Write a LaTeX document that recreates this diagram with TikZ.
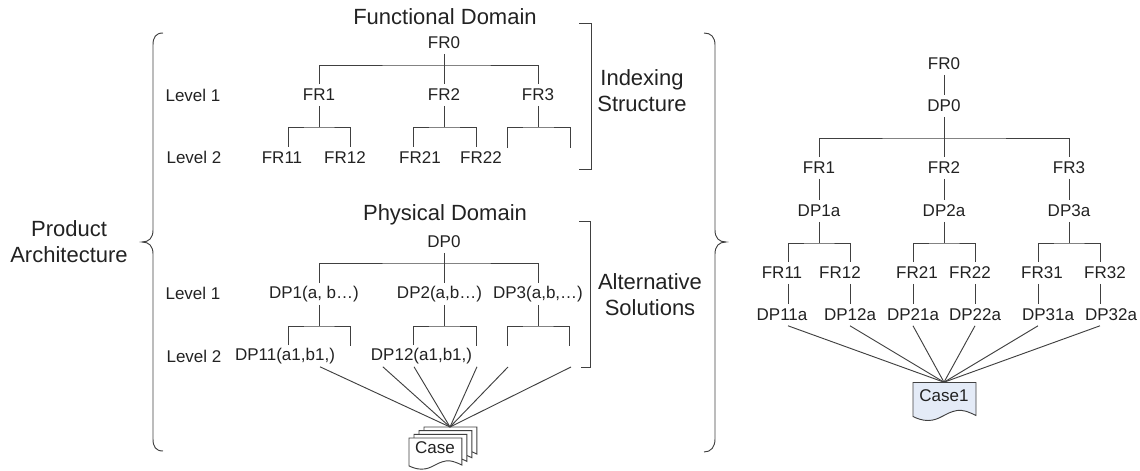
\documentclass[tikz,border=0pt]{standalone}
\usepackage{fontspec}
\usepackage{xcolor}
\setmainfont{Liberation Sans}
\definecolor{ln}{HTML}{404040}
\definecolor{tx}{HTML}{222222}
\definecolor{bl}{HTML}{E4EBF7}

% x, y, xscale, yscale, fill
\newcommand{\casedoc}[5]{
    \draw[fill = #5, shift = {(#1, #2)}, xscale = #3, yscale = #4]
        (0, 0) -- (63, 0) -- (63, 33)
        .. controls (55, 29) and (49, 27) .. (44, 28)
        .. controls (32, 30) and (27, 38) .. (15, 38)
        .. controls (9, 38) and (4, 36) .. (0, 34) -- cycle;
}

\begin{document}
\begin{tikzpicture}[
            x = 0.75pt,
            y = -0.75pt,
            color = ln,
            line width = 0.7pt % line style
        ]

        \tikzstyle{item}=[
            text = tx,
            font = \fontsize{12.75}{15}\selectfont,
            inner sep = 0pt,
            minimum height = 15.5pt
        ]
        \tikzstyle{heading}=[
            text = tx,
            font = \fontsize{16.5}{20}\selectfont,
            inner sep = 0pt
        ]
        \tikzstyle{side}=[
            text = tx,
            font = \fontsize{16.5}{19.5}\selectfont,
            align = center,
            inner sep = 0pt
        ]

        \useasboundingbox (0, 0) rectangle (1140, 471);

        \node[side] (product) [at={(69, 242)}] {Product\\Architecture};
        \node[side] (indexing) [at={(642, 91)}] {Indexing\\Structure};
        \node[side] (alternative) [at={(650, 295)}] {Alternative\\Solutions};
        \node[heading] (functional) [at={(445, 17)}] {Functional Domain};
        \node[heading] (physical) [at={(445, 215)}] {Physical Domain};

        % braces and brackets
        \draw (163, 33) .. controls (156, 33) and (153, 37) .. (153, 45) -- (153, 230)
            .. controls (153, 238) and (149, 242) .. (142, 242)
            .. controls (149, 242) and (153, 246) .. (153, 254) -- (153, 439)
            .. controls (153, 447) and (156, 451) .. (163, 451);
        \draw (704, 33) .. controls (711, 33) and (715, 37) .. (715, 45) -- (715, 230)
            .. controls (715, 238) and (719, 242) .. (726, 242)
            .. controls (719, 242) and (715, 246) .. (715, 254) -- (715, 439)
            .. controls (715, 447) and (711, 452) .. (704, 452);
        \draw (579, 23) -| (591, 169) -- (579, 169);
        \draw (579, 221) -| (590, 367) -- (581, 367);

        \node[item] (lev1a) [at={(193, 95)}] {Level 1};
        \node[item] (lev2a) [at={(194, 157)}] {Level 2};
        \node[item] (lev1b) [at={(193, 293)}] {Level 1};
        \node[item] (lev2b) [at={(194, 356)}] {Level 2};

        % functional domain
        \node[item] (FR0) [at={(444, 43)}] {FR0};
        \node[item] (FR1) [at={(319, 95)}] {FR1};
        \node[item] (FR2) [at={(444, 95)}] {FR2};
        \node[item] (FR3) [at={(538, 95)}] {FR3};
        \node[item] (FR11) [at={(282, 157.5)}] {FR11};
        \node[item] (FR12) [at={(345, 157.5)}] {FR12};
        \node[item] (FR21) [at={(420, 157.5)}] {FR21};
        \node[item] (FR22) [at={(481, 157.5)}] {FR22};
        \node[coordinate] (ba0) [at={(444, 65)}] {};
        \node[coordinate] (ba1) [at={(319, 127)}] {};
        \node[coordinate] (ba2) [at={(444, 127)}] {};
        \node[coordinate] (ba3) [at={(538, 127)}] {};
        \node[coordinate] (ea1) [at={(507, 148)}] {};
        \node[coordinate] (ea2) [at={(570, 148)}] {};

        \path (FR0) edge (FR2);
        \draw (FR1) |- (ba0) -| (FR3);
        \path (FR1) edge (ba1);
        \path (FR2) edge (ba2);
        \path (FR3) edge (ba3);
        \draw ([xshift=4.5pt]FR11.north) |- (ba1) -| ([xshift=3.75pt]FR12.north);
        \draw ([xshift=-5.25pt]FR21.north) |- (ba2) -| ([xshift=-3.75pt]FR22.north);
        \draw (ea1) |- (ba3) -| (ea2);

        % physical domain
        \node[item] (DP0) [at={(444, 242)}] {DP0};
        \node[item] (DP1) [at={(314, 294)}] {DP1(a, b…)};
        \node[item] (DP2) [at={(439.5, 294)}] {DP2(a,b…)};
        \node[item] (DP3) [at={(538, 294)}] {DP3(a,b,…)};
        \node[item] (DP11) [at={(285, 356)}] {DP11(a1,b1,)};
        \node[item] (DP12) [at={(421.5, 356)}] {DP12(a1,b1,)};
        \node[coordinate] (bb0) [at={(444, 263)}] {};
        \node[coordinate] (bb1) [at={(319, 326)}] {};
        \node[coordinate] (bb2) [at={(444, 326)}] {};
        \node[coordinate] (bb3) [at={(538, 326)}] {};
        \node[coordinate] (eb1) [at={(350, 346)}] {};
        \node[coordinate] (eb2) [at={(476, 346)}] {};
        \node[coordinate] (eb3) [at={(507, 346)}] {};
        \node[coordinate] (eb4) [at={(569, 346)}] {};
        \node[coordinate] (fan1) [at={(508, 367)}] {};
        \node[coordinate] (fan2) [at={(571, 367)}] {};
        \node[coordinate] (caseTop) [at={(450, 427)}] {};

        \path (DP0) edge ([xshift=3.375pt]DP2.north);
        \draw ([xshift=3.75pt]DP1.north) |- (bb0) -| (DP3);
        \path ([xshift=3.75pt]DP1.south) edge (bb1);
        \path ([xshift=3.375pt]DP2.south) edge (bb2);
        \path (DP3) edge (bb3);
        \draw ([xshift=2.25pt]DP11.north) |- (bb1) -| (eb1);
        \draw ([xshift=-6.4pt]DP12.north) |- (bb2) -| (eb2);
        \draw (eb3) |- (bb3) -| (eb4);

        % stack of cases
        \casedoc{424}{427}{0.84}{0.82}{white}
        \casedoc{419}{430.7}{0.84}{0.82}{white}
        \casedoc{414}{434.3}{0.84}{0.82}{white}
        \casedoc{409}{438}{0.84}{0.82}{white}
        \node[item] (Case) [at={(435, 448)}] {Case};

        \path ([xshift=26.25pt]DP11.south) edge (caseTop);
        \path ([xshift=-29pt]DP12.south) edge (caseTop);
        \path ([xshift=-5.6pt]DP12.south) edge (caseTop);
        \path ([xshift=41.6pt]DP12.south) edge (caseTop);
        \path (fan1) edge (caseTop);
        \path (fan2) edge (caseTop);

        % single case tree
        \node[item] (rFR0) [at={(944, 64)}] {FR0};
        \node[item] (rDP0) [at={(944, 106)}] {DP0};
        \node[item] (rFR1) [at={(819, 168)}] {FR1};
        \node[item] (rFR2) [at={(944, 168)}] {FR2};
        \node[item] (rFR3) [at={(1069, 168)}] {FR3};
        \node[item] (rDP1) [at={(819, 211)}] {DP1a};
        \node[item] (rDP2) [at={(944, 211)}] {DP2a};
        \node[item] (rDP3) [at={(1069, 211)}] {DP3a};
        \node[item] (rFR11) [at={(782, 273)}] {FR11};
        \node[item] (rFR12) [at={(840, 273)}] {FR12};
        \node[item] (rFR21) [at={(917, 273)}] {FR21};
        \node[item] (rFR22) [at={(970, 273)}] {FR22};
        \node[item] (rFR31) [at={(1042, 273)}] {FR31};
        \node[item] (rFR32) [at={(1105, 273)}] {FR32};
        \node[item] (rDP11) [at={(782, 315)}] {DP11a};
        \node[item] (rDP12) [at={(850, 315)}] {DP12a};
        \node[item] (rDP21) [at={(913, 315)}] {DP21a};
        \node[item] (rDP22) [at={(975, 315)}] {DP22a};
        \node[item] (rDP31) [at={(1048, 315)}] {DP31a};
        \node[item] (rDP32) [at={(1111, 315)}] {DP32a};
        \node[coordinate] (bc0) [at={(944, 138)}] {};
        \node[coordinate] (bc1) [at={(819, 243)}] {};
        \node[coordinate] (bc2) [at={(944, 243)}] {};
        \node[coordinate] (bc3) [at={(1069, 243)}] {};

        \path (rFR0) edge (rDP0);
        \path (rDP0) edge (rFR2);
        \draw (rFR1) |- (bc0) -| (rFR3);
        \path (rFR1) edge (rDP1);
        \path (rFR2) edge (rDP2);
        \path (rFR3) edge (rDP3);
        \path (rDP1) edge (bc1);
        \path (rDP2) edge (bc2);
        \path (rDP3) edge (bc3);
        \draw ([xshift=4.5pt]rFR11.north) |- (bc1) -| ([xshift=7.5pt]rFR12.north);
        \draw ([xshift=-3pt]rFR21.north) |- (bc2) -| ([xshift=3.75pt]rFR22.north);
        \draw ([xshift=-3pt]rFR31.north) |- (bc3) -| ([xshift=-3.75pt]rFR32.north);
        \path ([xshift=4.5pt]rFR11.south) edge ([xshift=4.5pt]rDP11.north);
        \path ([xshift=7.5pt]rFR12.south) edge (rDP12.north);
        \path ([xshift=-3pt]rFR21.south) edge (rDP21.north);
        \path ([xshift=3.75pt]rFR22.south) edge (rDP22.north);
        \path ([xshift=-3pt]rFR31.south) edge ([xshift=-7.5pt]rDP31.north);
        \path ([xshift=-3.75pt]rFR32.south) edge ([xshift=-8.25pt]rDP32.north);

        \casedoc{913}{382.5}{1}{1}{bl}
        \node[item, minimum height = 20pt] (Case1) [at={(944, 396)}] {Case1};

        \path ([xshift=4.5pt]rDP11.south) edge (Case1.north);
        \path (rDP12.south) edge (Case1.north);
        \path (rDP21.south) edge (Case1.north);
        \path (rDP22.south) edge (Case1.north);
        \path ([xshift=-7.5pt]rDP31.south) edge (Case1.north);
        \path ([xshift=-8.25pt]rDP32.south) edge (Case1.north);
    \end{tikzpicture}
\end{document}
